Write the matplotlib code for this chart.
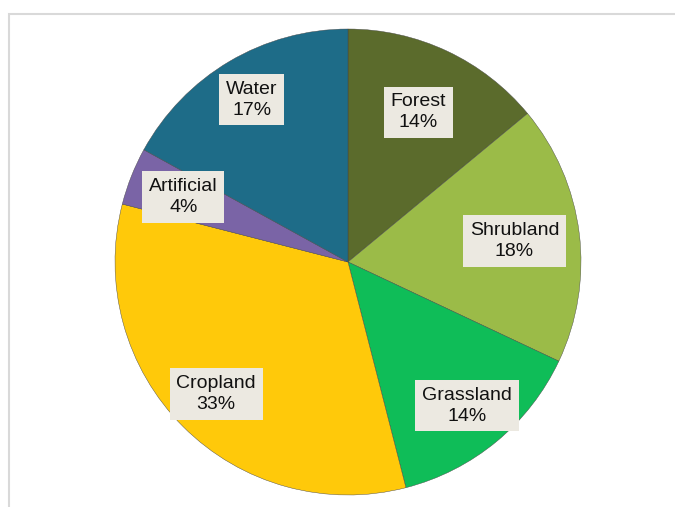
import matplotlib.pyplot as plt
from matplotlib.patches import Rectangle

labels = ['Forest', 'Shrubland', 'Grassland', 'Cropland', 'Artificial', 'Water']
shares = [14, 18, 14, 33, 4, 17]
colors = ['#5b6b2c', '#9bbb48', '#0fbd58', '#ffc90a', '#7a64a6', '#1e6c88']

# distance of each label box from the centre (fraction of radius)
label_dist = [0.71, 0.72, 0.80, 0.80, 0.76, 0.81]

plt.rcParams['font.family'] = ['Liberation Sans', 'DejaVu Sans']

fig = plt.figure(figsize=(6.75, 5.07), dpi=100)
fig.patches.append(Rectangle((9 / 675, -0.1), 1.2, (507 - 14) / 507 + 0.1,
                             transform=fig.transFigure, fill=False,
                             edgecolor='#d9d9d9', linewidth=1.5))

ax = fig.add_axes([(348 - 233) / 675, (507 - 495) / 507, 466 / 675, 466 / 507])
wedges, texts = ax.pie(shares, colors=colors, startangle=90, counterclock=False,
                       labels=[f'{l}\n{s}%' for l, s in zip(labels, shares)],
                       labeldistance=1.0,
                       wedgeprops=dict(edgecolor='#444444', linewidth=0.3),
                       textprops=dict(fontsize=14, ha='center', va='center',
                                      linespacing=1.3, color='#111111'))

for t, d in zip(texts, label_dist):
    x, y = t.get_position()
    t.set_position((x * d, y * d))
    t.set_horizontalalignment('center')
    t.set_bbox(dict(boxstyle='square,pad=0.35', facecolor='#ece9e1',
                    edgecolor='none'))

ax.set_xlim(-1, 1)
ax.set_ylim(-1, 1)
ax.set_aspect('equal')

fig.savefig('out.png', dpi=100)
